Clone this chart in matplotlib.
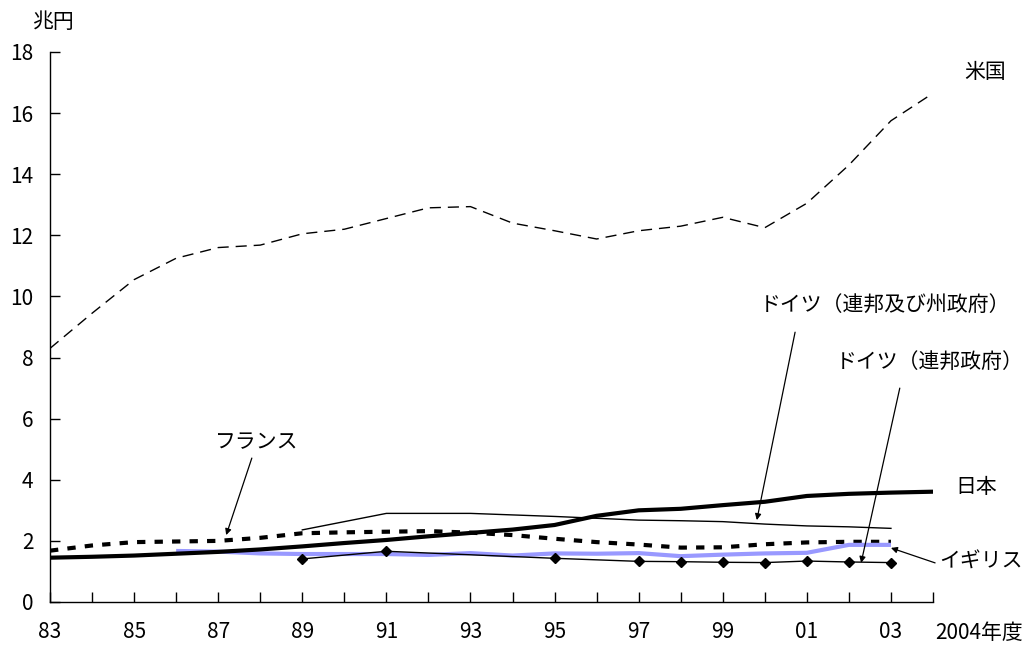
import matplotlib
matplotlib.use("Agg")
import matplotlib.pyplot as plt

plt.rcParams['font.family'] = ['Noto Sans CJK JP', 'DejaVu Sans']

# ---- data (兆円) ----
years_all = list(range(1983, 2005))
usa = [8.3, 9.45, 10.55, 11.25, 11.6, 11.68, 12.05, 12.2, 12.55, 12.9, 12.94, 12.4,
       12.15, 11.88, 12.15, 12.3, 12.59, 12.25, 13.05, 14.3, 15.75, 16.65]
japan = [1.45, 1.48, 1.52, 1.58, 1.64, 1.72, 1.82, 1.93, 2.03, 2.15, 2.26, 2.37,
         2.52, 2.82, 3.0, 3.05, 3.17, 3.28, 3.47, 3.54, 3.58, 3.61]
years_fr = list(range(1983, 2004))
france = [1.68, 1.85, 1.96, 1.98, 2.0, 2.1, 2.25, 2.28, 2.3, 2.32, 2.27, 2.19,
          2.07, 1.96, 1.88, 1.78, 1.79, 1.89, 1.95, 1.97, 1.97]
years_uk = list(range(1986, 2004))
uk = [1.67, 1.65, 1.59, 1.57, 1.57, 1.57, 1.54, 1.6, 1.52, 1.59, 1.58, 1.6,
      1.5, 1.55, 1.59, 1.61, 1.87, 1.87]
years_de_fs = list(range(1989, 2004))
germany_fs = [2.36, 2.63, 2.9, 2.9, 2.9, 2.85, 2.8, 2.74, 2.68, 2.66, 2.63, 2.55,
              2.49, 2.46, 2.41]
years_de_f = [1989, 1991, 1995, 1997, 1998, 1999, 2000, 2001, 2002, 2003]
germany_f = [1.41, 1.66, 1.43, 1.33, 1.32, 1.3, 1.29, 1.34, 1.31, 1.29]

tick_years = list(range(1983, 2005))
label_years = list(range(1983, 2004, 2))
y_ticks = list(range(0, 19, 2))

fig = plt.figure(figsize=(10.24, 6.45), dpi=100)
ax = fig.add_axes([50/1024, 1-602/645, (933-50)/1024, (602-52)/645])

ax.plot(years_all, usa, color='black', lw=1.0, dashes=(8, 5))
ax.plot(years_fr, france, color='black', lw=3.0, dashes=(2.0, 2.2))
ax.plot(years_de_fs, germany_fs, color='black', lw=1.0)
ax.plot(years_uk, uk, color='#9999FF', lw=3.0, solid_capstyle='butt')
ax.plot(years_all, japan, color='black', lw=3.0, solid_capstyle='round')
ax.plot(years_de_f, germany_f, color='black', lw=1.0, marker='D', ms=5)

ax.set_xlim(1983, 2004)
ax.set_ylim(0, 18)
ax.set_xticks(tick_years)
ax.set_xticklabels([f"{y % 100:02d}" if y in label_years else "" for y in tick_years])
ax.set_yticks(y_ticks)
ax.tick_params(axis='both', direction='in', length=7, width=1, labelsize=15, colors='black')
ax.tick_params(axis='x', pad=14)
ax.tick_params(axis='y', pad=12)
for s in ['top', 'right']:
    ax.spines[s].set_visible(False)
for s in ['left', 'bottom']:
    ax.spines[s].set_linewidth(1.0)

fs = 15
ax.text(2005.09, -1.0, "2004年度", ha='center', va='center', fontsize=15)
fig.text(53/1024, 1-22/645, "兆円", ha='center', va='center', fontsize=fs)

ax.text(2005.25, 17.34, "米国", ha='center', va='center', fontsize=fs)
ax.text(2005.02, 3.76, "日本", ha='center', va='center', fontsize=fs)
ax.text(2005.14, 1.31, "イギリス", ha='center', va='center', fontsize=fs)
ax.text(1987.92, 5.24, "フランス", ha='center', va='center', fontsize=fs)
ax.text(2002.86, 9.72, "ドイツ（連邦及び州政府）", ha='center', va='center', fontsize=fs)
ax.text(2003.93, 7.85, "ドイツ（連邦政府）", ha='center', va='center', fontsize=fs)

arrow = dict(arrowstyle='-|>', color='black', lw=0.9, mutation_scale=9, shrinkA=0, shrinkB=0)
ax.annotate("", xy=(1987.19, 2.19), xytext=(1987.8, 4.71), arrowprops=arrow)
ax.annotate("", xy=(1999.81, 2.68), xytext=(2000.72, 8.83), arrowprops=arrow)
ax.annotate("", xy=(2002.29, 1.28), xytext=(2003.21, 7.0), arrowprops=arrow)
ax.annotate("", xy=(2003.0, 1.77), xytext=(2004.05, 1.28), arrowprops=arrow)

fig.savefig("out.png", dpi=100)
